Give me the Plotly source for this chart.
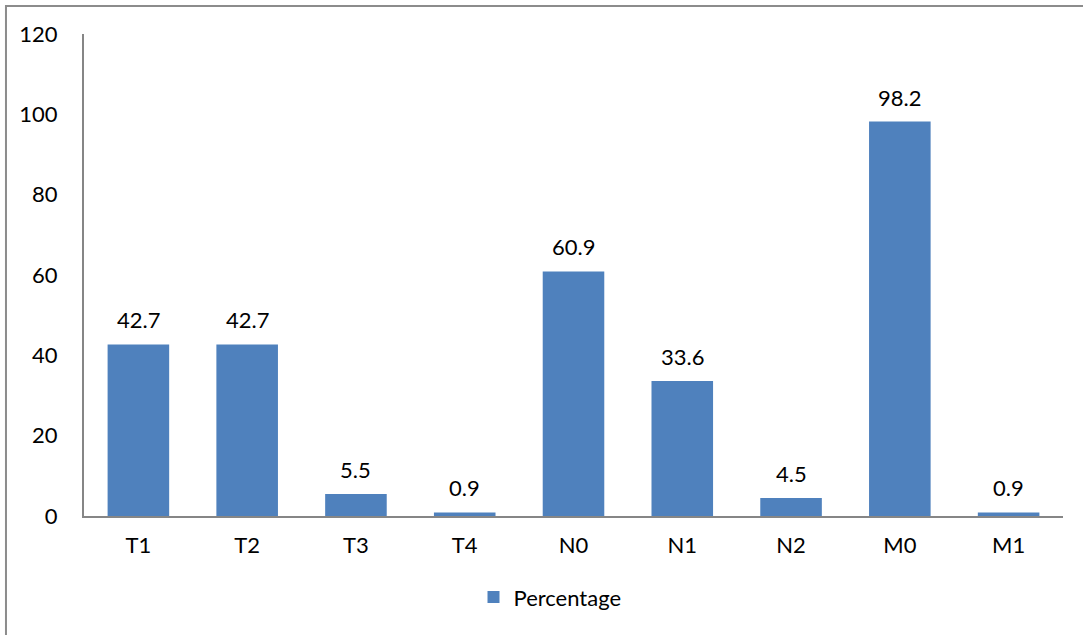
import plotly.graph_objects as go

categories = ["T1", "T2", "T3", "T4", "N0", "N1", "N2", "M0", "M1"]
percentage = [42.7, 42.7, 5.5, 0.9, 60.9, 33.6, 4.5, 98.2, 0.9]
y_ticks = [0, 20, 40, 60, 80, 100, 120]

FONT = "Lato, Open Sans, sans-serif"
FONT_SIZE = 22
AXIS_GREY = "#868686"

fig = go.Figure(
    go.Bar(
        x=categories,
        y=percentage,
        name="Percentage",
        marker=dict(color="#4F81BD", line=dict(width=0)),
    )
)

# value labels placed above each bar
for cat, val in zip(categories, percentage):
    fig.add_annotation(
        x=cat,
        y=val,
        text=f"{val}",
        showarrow=False,
        yanchor="bottom",
        yshift=9,
        font=dict(family=FONT, size=FONT_SIZE, color="#000000"),
    )

fig.update_layout(
    width=1083,
    height=635,
    margin=dict(l=84, r=20, t=34, b=119),
    paper_bgcolor="white",
    plot_bgcolor="white",
    bargap=0.434,
    font=dict(family=FONT, size=FONT_SIZE, color="#000000"),
    showlegend=True,
    legend=dict(
        orientation="h",
        x=0.476,
        xanchor="center",
        y=-0.125,
        yanchor="top",
        font=dict(family=FONT, size=FONT_SIZE),
        itemwidth=30,
    ),
    xaxis=dict(
        showline=True,
        linecolor=AXIS_GREY,
        linewidth=2,
        ticks="",
        showgrid=False,
        ticklabelstandoff=9,
    ),
    yaxis=dict(
        range=[0, 120],
        tickvals=y_ticks,
        showline=True,
        linecolor=AXIS_GREY,
        linewidth=2,
        ticks="",
        showgrid=False,
        zeroline=False,
        ticklabelstandoff=20,
    ),
    shapes=[
        dict(
            type="rect",
            xref="paper",
            yref="paper",
            x0=-0.0797,
            x1=1.2,
            y0=-0.4,
            y1=1.058,
            line=dict(color="#8c8c8c", width=2),
            fillcolor="rgba(0,0,0,0)",
            layer="below",
        )
    ],
)

fig.write_html("out.html")
